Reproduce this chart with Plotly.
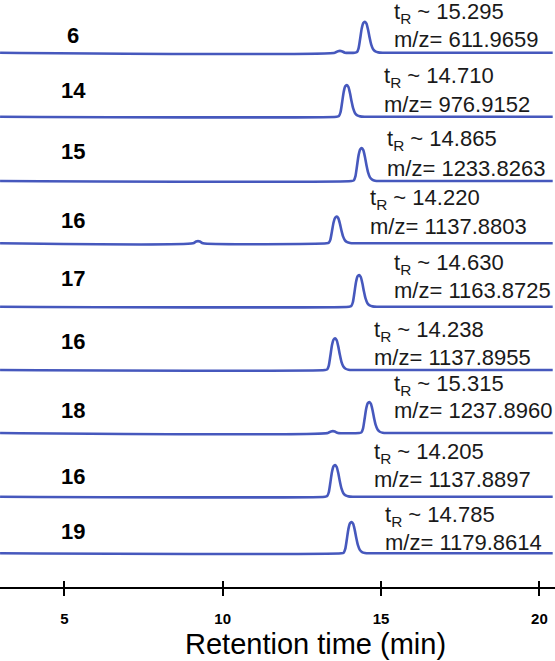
import plotly.graph_objects as go

# ---------------- data ----------------
compounds = ["6", "14", "15", "16", "17", "16", "18", "16", "19"]
tr_labels = ["15.295", "14.710", "14.865", "14.220", "14.630", "14.238", "15.315", "14.205", "14.785"]
mz_labels = ["611.9659", "976.9152", "1233.8263", "1137.8803", "1163.8725",
             "1137.8955", "1237.8960", "1137.8897", "1179.8614"]
peak_apex_min = [14.49, 13.92, 14.39, 13.60, 14.31, 13.55, 14.63, 13.55, 14.07]
peak_height = [100, 102, 106, 86, 102, 102, 100, 102, 101]
# peak profile (offset from apex in min, relative intensity %)
profile_dt = [-0.32, -0.25, -0.20, -0.15, -0.10, -0.05, 0.0, 0.05, 0.10, 0.15, 0.20, 0.26, 0.33, 0.42, 0.56]
profile_rel = [0, 2, 14, 45, 78, 96, 100, 94, 74, 48, 26, 11, 4, 1, 0]
# small side features
minor_trace = [0, 3, 6]
minor_time = [13.70, 9.22, 13.48]
minor_height = [6, 7, 6]
minor_dt = [-0.16, -0.06, 0.0, 0.06, 0.16]
minor_rel = [0, 80, 100, 80, 0]
run_start, run_end = 2.97, 20.42
x_ticks = [5, 10, 15, 20]

# ---------------- layout constants ----------------
W, H = 555, 661
PX_PER_MIN, PX_ORIGIN = 31.67, -94.0
X_MIN, X_MAX = (0 - PX_ORIGIN) / PX_PER_MIN, (W - PX_ORIGIN) / PX_PER_MIN
baseline_px = [52.7, 116.7, 181, 243.3, 306.7, 370, 433, 496.7, 553.3]
PX_PER_UNIT = 0.31
label_y_px = [35, 90, 151.7, 220, 278, 341, 410, 476, 531]
label_x_px = 73
annot_x_px = [392, 382, 385, 368, 392, 372, 392, 372, 383]
annot_tr_px = [12.5, 77, 140, 199, 263.5, 331, 384.5, 453, 516]
annot_mz_px = [39, 104, 168, 226, 290.5, 357.5, 410.5, 479.5, 542]
AXIS_Y_PX = 588.3
LINE_COLOR = "#4658bd"
FONT = "Arial, Liberation Sans, sans-serif"

fig = go.Figure()

for i in range(len(compounds)):
    pts = [(run_start, 0.0), (run_end, 0.0)]
    for k, tr in enumerate(minor_trace):
        if tr == i:
            pts += [(minor_time[k] + d, minor_height[k] * r / 100) for d, r in zip(minor_dt, minor_rel)]
    pts += [(peak_apex_min[i] + d, peak_height[i] * r / 100) for d, r in zip(profile_dt, profile_rel)]
    pts.sort()
    xs = [p[0] for p in pts]
    ys = [baseline_px[i] - p[1] * PX_PER_UNIT for p in pts]
    fig.add_trace(go.Scatter(x=xs, y=ys, mode="lines",
                             line=dict(color=LINE_COLOR, width=2.6, shape="spline", smoothing=0.6),
                             hoverinfo="skip", showlegend=False))

# invisible trace for the secondary (inside-tick) axis
fig.add_trace(go.Scatter(x=[X_MIN, X_MAX], y=[0, 0], xaxis="x2", mode="lines",
                         line=dict(width=0), showlegend=False, hoverinfo="skip"))

annotations = []
for i in range(len(compounds)):
    annotations.append(dict(x=label_x_px / W, xref="paper", y=label_y_px[i], yref="y",
                            text=compounds[i], showarrow=False, xanchor="center", yanchor="middle",
                            font=dict(family=FONT, size=22, color="black", weight="bold")))
    annotations.append(dict(x=annot_x_px[i] / W, xref="paper", y=annot_tr_px[i], yref="y",
                            text="t<sub>R</sub> ~ " + tr_labels[i], showarrow=False,
                            xanchor="left", yanchor="middle",
                            font=dict(family=FONT, size=22, color="#1a1a1a")))
    annotations.append(dict(x=annot_x_px[i] / W, xref="paper", y=annot_mz_px[i], yref="y",
                            text="m/z= " + mz_labels[i], showarrow=False,
                            xanchor="left", yanchor="middle",
                            font=dict(family=FONT, size=22, color="#1a1a1a")))

annotations.append(dict(x=315 / W, xref="paper", y=644, yref="y", text="Retention time (min)",
                        showarrow=False, xanchor="center", yanchor="middle",
                        font=dict(family=FONT, size=29, color="black")))

axis_pos = 1 - AXIS_Y_PX / H
fig.update_layout(
    width=W, height=H, margin=dict(l=0, r=0, t=0, b=0),
    paper_bgcolor="white", plot_bgcolor="white",
    xaxis=dict(range=[X_MIN, X_MAX], anchor="free", position=axis_pos,
               showline=True, linecolor="black", linewidth=2,
               ticks="outside", ticklen=7, tickwidth=2, tickcolor="black",
               tickvals=x_ticks, ticktext=[str(t) for t in x_ticks],
               ticklabelstandoff=10,
               tickfont=dict(family=FONT, size=15, color="black", weight="bold"),
               showgrid=False, zeroline=False),
    xaxis2=dict(range=[X_MIN, X_MAX], overlaying="x", anchor="free", position=axis_pos,
                showline=False, ticks="inside", ticklen=7, tickwidth=2, tickcolor="black",
                tickvals=x_ticks, showticklabels=False, showgrid=False, zeroline=False),
    yaxis=dict(range=[H, 0], domain=[0, 1], visible=False, showgrid=False, zeroline=False),
    annotations=annotations,
)

fig.write_html("out.html")
